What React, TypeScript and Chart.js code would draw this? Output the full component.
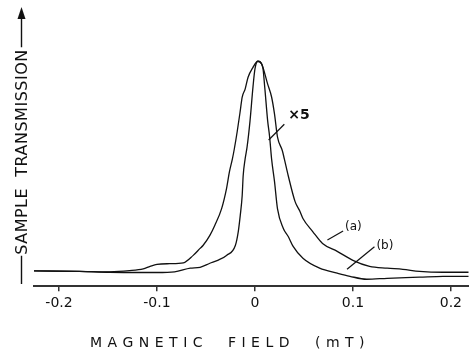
import React, { useEffect, useRef } from "react";
import { Chart, registerables } from "chart.js";

Chart.register(...registerables);

// Magnetic field (mT) and sample transmission (arb. units, peak = 100)
const fieldA = [-0.2255, -0.179, -0.148, -0.128, -0.114, -0.107, -0.1, -0.087, -0.073, -0.063, -0.056, -0.053, -0.046, -0.041, -0.034, -0.029, -0.026, -0.023, -0.021, -0.018, -0.015, -0.013, -0.01, -0.007, -0.002, 0.003, 0.007, 0.013, 0.017, 0.02, 0.023, 0.028, 0.03, 0.034, 0.041, 0.046, 0.049, 0.059, 0.069, 0.084, 0.1, 0.117, 0.135, 0.151, 0.168, 0.192, 0.218];
const transA = [6.8, 6.6, 6.4, 6.9, 7.7, 8.8, 9.7, 10.0, 10.4, 13.7, 16.8, 18.1, 22.6, 27.0, 34.5, 43.4, 50.9, 56.6, 61.1, 69.0, 77.9, 84.1, 87.6, 92.9, 97.3, 100, 98.7, 89.8, 84.1, 76.5, 66.4, 60.2, 56.6, 49.1, 37.6, 33.2, 30.1, 24.3, 19.0, 15.5, 11.5, 8.8, 8.0, 7.5, 6.6, 6.2, 6.2];

const fieldB = [-0.2255, -0.179, -0.148, -0.1, -0.082, -0.066, -0.056, -0.046, -0.038, -0.029, -0.02, -0.017, -0.015, -0.013, -0.012, -0.01, -0.008, -0.005, -0.002, 0.0, 0.003, 0.008, 0.01, 0.013, 0.015, 0.017, 0.02, 0.023, 0.029, 0.034, 0.039, 0.049, 0.066, 0.084, 0.097, 0.114, 0.135, 0.168, 0.192, 0.218];
const transB = [6.8, 6.6, 6.2, 6.1, 6.4, 8.0, 8.4, 10.2, 11.5, 13.7, 18.1, 24.3, 31.4, 40.3, 49.1, 56.6, 61.9, 73.5, 88.5, 96.5, 100, 97.3, 88.5, 73.5, 66.4, 56.6, 46.5, 34.5, 25.7, 22.1, 17.7, 12.4, 8.0, 5.8, 4.4, 3.1, 3.5, 4.0, 4.4, 4.4];

const tickValues = [-0.2, -0.1, 0, 0.1, 0.2];
const xTitle = "MAGNETIC  FIELD  (mT)";
const yTitle = "SAMPLE  TRANSMISSION";

// annotations: [labelX, labelY, leaderFromX, leaderFromY, leaderToX, leaderToY] in data units
const noteLabels = ["×5", "(a)", "(b)"];
const noteAt = [
  [0.034, 76, 0.014, 65, 0.03, 72],
  [0.092, 26.5, 0.074, 20.5, 0.09, 24.5],
  [0.124, 17.8, 0.094, 7.5, 0.122, 17.5],
];

const FONT = "'DejaVu Sans', sans-serif";

const decorPlugin = {
  id: "decor",
  afterDraw(chart: any) {
    const ctx = chart.ctx;
    const xs = chart.scales.x;
    const ys = chart.scales.y;
    ctx.save();
    ctx.fillStyle = "#111";
    ctx.strokeStyle = "#111";
    ctx.lineWidth = 1.2;

    // annotations
    ctx.textBaseline = "middle";
    ctx.textAlign = "left";
    noteAt.forEach((n, i) => {
      const [lx, ly, fx, fy, tx, ty] = n;
      ctx.beginPath();
      ctx.moveTo(xs.getPixelForValue(fx), ys.getPixelForValue(fy));
      ctx.lineTo(xs.getPixelForValue(tx), ys.getPixelForValue(ty));
      ctx.stroke();
      ctx.font = i === 0 ? `bold 14px ${FONT}` : `12px ${FONT}`;
      ctx.fillText(noteLabels[i], xs.getPixelForValue(lx), ys.getPixelForValue(ly));
    });

    // x title
    ctx.font = `14px ${FONT}`;
    (ctx as any).letterSpacing = "5.5px";
    ctx.textBaseline = "alphabetic";
    ctx.textAlign = "left";
    ctx.fillText(xTitle, 90, 347);

    // y title
    ctx.font = `16px ${FONT}`;
    (ctx as any).letterSpacing = "0.5px";
    const w = ctx.measureText(yTitle).width;
    const cy = 152;
    const cx = 21.5;
    ctx.save();
    ctx.translate(cx, cy);
    ctx.rotate(-Math.PI / 2);
    ctx.textAlign = "center";
    ctx.textBaseline = "middle";
    ctx.fillText(yTitle, 0, 1);
    ctx.restore();
    const top = cy - w / 2 - 2;
    const bot = cy + w / 2 + 1;
    ctx.lineWidth = 1.4;
    ctx.beginPath();
    ctx.moveTo(cx, bot);
    ctx.lineTo(cx, 284);
    ctx.moveTo(cx, top);
    ctx.lineTo(cx, 18);
    ctx.stroke();
    ctx.beginPath();
    ctx.moveTo(cx, 7);
    ctx.lineTo(cx - 4, 19);
    ctx.lineTo(cx + 4, 19);
    ctx.closePath();
    ctx.fill();
    ctx.restore();
  },
};

export default function App() {
  const ref = useRef<HTMLCanvasElement | null>(null);
  useEffect(() => {
    document.body.style.margin = "0";
    const chart = new Chart(ref.current as HTMLCanvasElement, {
      type: "line",
      data: {
        datasets: [
          {
            label: "(a)",
            data: fieldA.map((x, i) => ({ x, y: transA[i] })),
            borderColor: "#111",
            borderWidth: 1.3,
            pointRadius: 0,
            cubicInterpolationMode: "monotone",
            fill: false,
          },
          {
            label: "(b)",
            data: fieldB.map((x, i) => ({ x, y: transB[i] })),
            borderColor: "#111",
            borderWidth: 1.3,
            pointRadius: 0,
            cubicInterpolationMode: "monotone",
            fill: false,
          },
        ],
      },
      options: {
        animation: false,
        responsive: true,
        maintainAspectRatio: false,
        layout: { padding: { left: 34, right: 0, top: 5, bottom: 40 } },
        plugins: { legend: { display: false }, tooltip: { enabled: false } },
        scales: {
          x: {
            type: "linear",
            min: -0.2255,
            max: 0.2185,
            afterBuildTicks: (axis: any) => {
              axis.ticks = tickValues.map((v) => ({ value: v }));
            },
            ticks: {
              color: "#111",
              font: { family: FONT, size: 14 },
              padding: 4,
              maxRotation: 0,
              autoSkip: false,
              callback: (v: any) => (Number(v) === 0 ? "0" : Number(v).toFixed(1)),
            },
            grid: { drawOnChartArea: false, drawTicks: true, tickLength: 5, color: "#333", lineWidth: 1.5 },
            border: { display: true, color: "#333", width: 2 },
          },
          y: {
            display: false,
            min: 0,
            max: 125,
          },
        },
      },
      plugins: [decorPlugin],
    });
    return () => chart.destroy();
  }, []);
  return (
    <div style={{ position: "fixed", left: 0, top: 0, width: 469, height: 356, background: "#fff" }}>
      <canvas ref={ref} />
    </div>
  );
}
